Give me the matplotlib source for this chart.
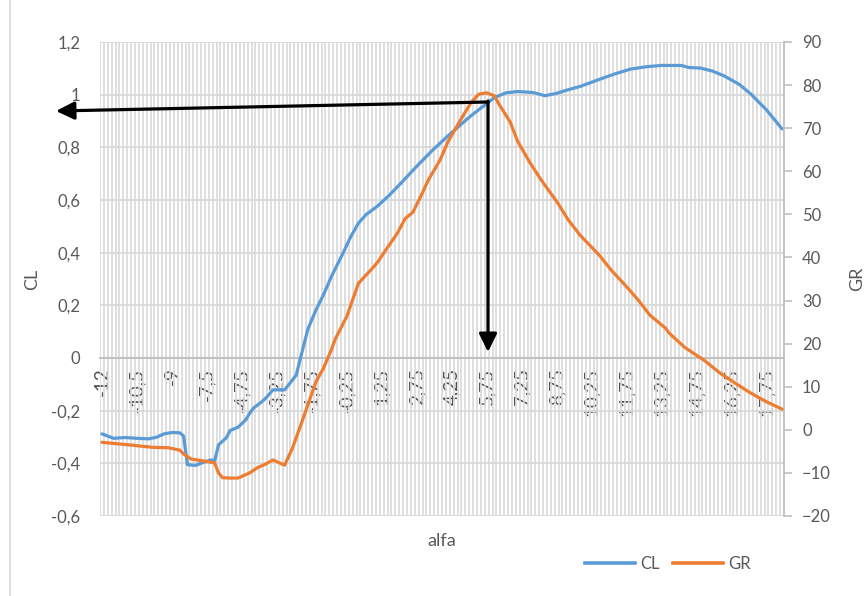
# -*- coding: utf-8 -*-

import matplotlib
matplotlib.use("Agg")
import matplotlib.pyplot as plt
from matplotlib.ticker import FuncFormatter, MultipleLocator

# category axis: 176 alfa steps, one label every 9 categories
n_categories = 176
label_step = 9
alfa_labels = ["-12", "-10,5", "-9", "-7,5", "-4,75", "-3,25", "-1,75", "-0,25",
               "1,25", "2,75", "4,25", "5,75", "7,25", "8,75", "10,25", "11,75",
               "13,25", "14,75", "16,25", "17,75"]

# CL (category index, value)
cl_pos = [0, 3, 6, 9, 12, 14, 16, 18, 20, 21, 22, 24, 26, 28, 29, 30, 32, 33, 35, 37,
          38, 39, 41, 42, 44, 47, 50, 51, 53, 55, 57, 59, 62, 64, 66, 68, 71, 74, 77,
          81, 85, 89, 94, 96, 99, 101, 104, 107, 111, 114, 117, 120, 123, 128, 132,
          136, 140, 144, 149, 151, 154, 157, 160, 164, 167, 171, 175]
cl_val = [-0.288, -0.305, -0.302, -0.305, -0.307, -0.301, -0.288, -0.283, -0.284,
          -0.296, -0.405, -0.408, -0.397, -0.387, -0.390, -0.330, -0.303, -0.275,
          -0.263, -0.235, -0.210, -0.190, -0.168, -0.155, -0.121, -0.121, -0.065,
          -0.005, 0.110, 0.180, 0.240, 0.308, 0.397, 0.460, 0.512, 0.545, 0.578,
          0.619, 0.665, 0.728, 0.788, 0.843, 0.908, 0.932, 0.966, 0.989, 1.007,
          1.012, 1.008, 0.996, 1.005, 1.019, 1.031, 1.058, 1.079, 1.097, 1.106,
          1.111, 1.111, 1.103, 1.101, 1.090, 1.072, 1.039, 1.002, 0.942, 0.870]

# GR (category index, value)
gr_pos = [0, 7, 13, 17, 20, 21, 23, 26, 29, 30, 31, 33, 35, 38, 40, 42, 44, 47, 49,
          51, 53, 55, 57, 59, 60, 63, 66, 70, 71, 73, 76, 78, 80, 82, 84, 87, 89, 92,
          95, 97, 99, 101, 102, 105, 107, 110, 113, 117, 120, 123, 128, 131, 135,
          138, 141, 145, 146, 150, 155, 159, 163, 167, 171, 175]
gr_val = [-2.9, -3.5, -4.06, -4.15, -4.7, -5.6, -6.8, -7.2, -7.7, -10.0, -11.1, -11.2,
          -11.2, -10.0, -8.8, -8.0, -7.0, -8.2, -4.3, 0.7, 5.8, 11.0, 14.3, 18.5,
          21.0, 26.3, 34.0, 37.9, 39.0, 41.7, 45.6, 49.0, 50.5, 54.1, 58.0, 62.6,
          66.8, 71.5, 76.0, 77.9, 78.2, 77.5, 75.8, 71.5, 66.9, 62.2, 58.0, 53.0,
          48.7, 45.2, 40.5, 37.1, 33.2, 30.1, 26.6, 23.6, 22.4, 19.1, 16.1, 13.2,
          10.8, 8.5, 6.5, 4.8]

blue = "#5B9BD5"
orange = "#ED7D31"
grey_txt = "#595959"
grid_c = "#d9d9d9"

plt.rcParams["font.family"] = ["Lato", "DejaVu Sans"]
plt.rcParams["font.size"] = 12


def comma(v, pos=None):
    return ("%g" % round(v, 2)).replace(".", ",")


fig = plt.figure(figsize=(8.64, 5.96), dpi=100)
ax = fig.add_axes([100 / 864, 1 - 516 / 596, 684 / 864, 474 / 596])
ax2 = ax.twinx()

ax.set_xlim(-0.5, n_categories - 0.5)
ax.set_ylim(-0.6, 1.2)
ax2.set_ylim(-20, 90)

# gridlines: one vertical per category, horizontal every 0.2
ax.set_xticks([i - 0.5 for i in range(n_categories + 1)], minor=True)
ax.grid(True, which="minor", axis="x", color=grid_c, lw=1.2)
ax.yaxis.set_major_locator(MultipleLocator(0.2))
ax.grid(True, which="major", axis="y", color=grid_c, lw=1.3)
ax.tick_params(which="minor", length=0)
ax.set_axisbelow(True)

ax.set_xticks(range(0, n_categories, label_step))
ax.set_xticklabels(alfa_labels)
ax.tick_params(axis="x", length=0, pad=7, labelrotation=90, labelcolor="#505050",
               labelsize=13.5)
ax.spines["bottom"].set_position(("data", 0))
ax.spines["bottom"].set_color("#bfbfbf")
ax.spines["bottom"].set_linewidth(1.3)

ax.yaxis.set_major_formatter(FuncFormatter(comma))
ax.tick_params(axis="y", length=0, pad=14, colors=grey_txt)
for s in ["top", "left", "right"]:
    ax.spines[s].set_visible(False)

ax2.yaxis.set_major_locator(MultipleLocator(10))
ax2.tick_params(axis="y", length=6, width=1.2, color="#bfbfbf", pad=7, labelcolor=grey_txt)
for s in ["top", "left", "bottom"]:
    ax2.spines[s].set_visible(False)
ax2.spines["right"].set_color("#bfbfbf")
ax2.spines["right"].set_linewidth(1.3)

ax.plot(cl_pos, cl_val, color=blue, lw=2.3, solid_capstyle="round", zorder=3)
ax2.plot(gr_pos, gr_val, color=orange, lw=2.3, solid_capstyle="round", zorder=3)

# arrows from the CL point at the GR maximum
arrow = dict(arrowstyle="-|>,head_length=0.55,head_width=0.27", color="black",
             lw=2.3, mutation_scale=20, shrinkA=0, shrinkB=0)
ax2.annotate("", xy=(56 / 864, 1 - 111 / 596), xytext=(488 / 864, 1 - 102 / 596),
             xycoords="figure fraction", textcoords="figure fraction",
             arrowprops=arrow, annotation_clip=False, zorder=5)
ax2.annotate("", xy=(488 / 864, 1 - 352 / 596), xytext=(488 / 864, 1 - 101 / 596),
             xycoords="figure fraction", textcoords="figure fraction",
             arrowprops=arrow, annotation_clip=False, zorder=5)

fig.text(32 / 864, 1 - 279 / 596, "CL", rotation=90, ha="center", va="center",
         color=grey_txt, fontsize=13)
fig.text(857 / 864, 1 - 279 / 596, "GR", rotation=90, ha="center", va="center",
         color=grey_txt, fontsize=13)
fig.text(442 / 864, 1 - 541 / 596, "alfa", ha="center", va="center",
         color=grey_txt, fontsize=13)

h1, = ax.plot([], [], color=blue, lw=2.6, label="CL")
h2, = ax.plot([], [], color=orange, lw=2.6, label="GR")
fig.legend(handles=[h1, h2], loc="center", bbox_to_anchor=(668 / 864, 1 - 564 / 596),
           ncol=2, frameon=False, handlelength=3.0, handletextpad=0.3,
           columnspacing=0.8, labelcolor=grey_txt, fontsize=12)

# chart area border on the left
fig.add_artist(plt.Line2D([10 / 864, 10 / 864], [0, 1], color=grid_c, lw=1.2))

plt.savefig("out.png", dpi=100)
